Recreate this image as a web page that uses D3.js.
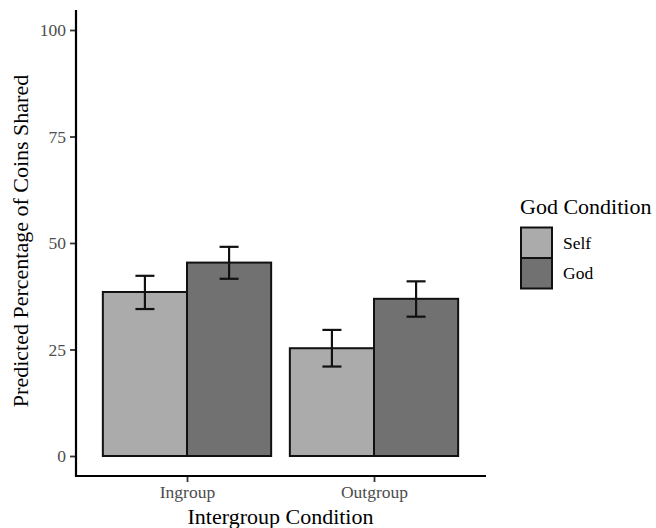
<!DOCTYPE html>
<html>
<head>
<meta charset="utf-8">
<script src="https://cdn.jsdelivr.net/npm/d3@7/dist/d3.min.js"></script>
<style>
  body { margin: 0; background: #fff; }
  svg { display: block; font-family: "Liberation Serif", "Times New Roman", serif; }
</style>
</head>
<body>
<svg id="chart" width="656" height="528"></svg>
<script>
const categories = ["Ingroup", "Outgroup"];
const series = ["Self", "God"];
const selfValues = [38.5, 25.3];
const godValues = [45.4, 36.9];
const selfLower = [34.5, 21.0];
const selfUpper = [42.3, 29.6];
const godLower = [41.6, 32.7];
const godUpper = [49.1, 41.0];
const yTicks = [0, 25, 50, 75, 100];
const fills = ["#ababab", "#717171"];

const rows = [];
categories.forEach((c, i) => {
  rows.push({cat: c, s: "Self", v: selfValues[i], lo: selfLower[i], hi: selfUpper[i]});
  rows.push({cat: c, s: "God", v: godValues[i], lo: godLower[i], hi: godUpper[i]});
});

const svg = d3.select("#chart");
const mLeft = 76, mRight = 486, mTop = 10, mBottom = 476;

const x = d3.scalePoint().domain(categories).range([187, 374]);
const unit = 187;
const y = d3.scaleLinear().domain([0, 100]).range([456, 30]);
const sub = d3.scaleBand().domain(series).range([-0.45 * unit, 0.45 * unit]);
const color = d3.scaleOrdinal().domain(series).range(fills);

const g = svg.append("g");

g.selectAll("rect.bar").data(rows).enter().append("rect")
  .attr("class", "bar")
  .attr("x", d => x(d.cat) + sub(d.s))
  .attr("width", sub.bandwidth())
  .attr("y", d => y(d.v))
  .attr("height", d => y(0) - y(d.v))
  .attr("fill", d => color(d.s))
  .attr("stroke", "#111")
  .attr("stroke-width", 2);

const capHalf = 9.5;
const cx = d => x(d.cat) + sub(d.s) + sub.bandwidth() / 2;
const eb = g.selectAll("g.eb").data(rows).enter().append("g")
  .attr("class", "eb")
  .attr("stroke", "#111")
  .attr("stroke-width", 2.2);
eb.append("line")
  .attr("x1", cx).attr("x2", cx)
  .attr("y1", d => y(d.lo)).attr("y2", d => y(d.hi));
eb.append("line")
  .attr("x1", d => cx(d) - capHalf).attr("x2", d => cx(d) + capHalf)
  .attr("y1", d => y(d.hi)).attr("y2", d => y(d.hi));
eb.append("line")
  .attr("x1", d => cx(d) - capHalf).attr("x2", d => cx(d) + capHalf)
  .attr("y1", d => y(d.lo)).attr("y2", d => y(d.lo));

const yAxis = svg.append("g").attr("transform", `translate(${mLeft},0)`)
  .call(d3.axisLeft(y).tickValues(yTicks).tickSize(6).tickPadding(4));
yAxis.select(".domain").remove();
yAxis.append("line").attr("x1", 0).attr("x2", 0).attr("y1", mTop).attr("y2", mBottom + 1)
  .attr("stroke", "#000").attr("stroke-width", 2.2);
yAxis.selectAll(".tick line").attr("stroke", "#333").attr("stroke-width", 1.8);
yAxis.selectAll(".tick text").attr("fill", "#4d4d4d").style("font-size", "17.5px")
  .style("font-family", "'Liberation Serif', serif");

const xAxis = svg.append("g").attr("transform", `translate(0,${mBottom})`)
  .call(d3.axisBottom(x).tickSize(6).tickPadding(4));
xAxis.select(".domain").remove();
xAxis.append("line").attr("x1", mLeft - 1).attr("x2", mRight).attr("y1", 0).attr("y2", 0)
  .attr("stroke", "#000").attr("stroke-width", 2.2);
xAxis.selectAll(".tick line").attr("stroke", "#333").attr("stroke-width", 1.8);
xAxis.selectAll(".tick text").attr("fill", "#4d4d4d").style("font-size", "17.5px")
  .style("font-family", "'Liberation Serif', serif");

svg.append("text").attr("x", (mLeft + mRight) / 2 - 0.5).attr("y", 524)
  .attr("text-anchor", "middle").style("font-size", "22px").attr("fill", "#000")
  .text("Intergroup Condition");
svg.append("text").attr("transform", "translate(28,241) rotate(-90)")
  .attr("text-anchor", "middle").style("font-size", "22px").attr("fill", "#000")
  .text("Predicted Percentage of Coins Shared");

const lg = svg.append("g");
lg.append("text").attr("x", 520).attr("y", 214).style("font-size", "22px").attr("fill", "#000")
  .text("God Condition");
const keyH = 30.5, keyW = 31, keyY0 = 227.5;
series.forEach((s, i) => {
  lg.append("rect").attr("x", 521).attr("y", keyY0 + i * keyH)
    .attr("width", keyW).attr("height", keyH)
    .attr("fill", color(s)).attr("stroke", "#111").attr("stroke-width", 2);
  lg.append("text").attr("x", 563).attr("y", keyY0 + i * keyH + keyH / 2 + 6)
    .style("font-size", "17.5px").attr("fill", "#000").text(s);
});
</script>
</body>
</html>
